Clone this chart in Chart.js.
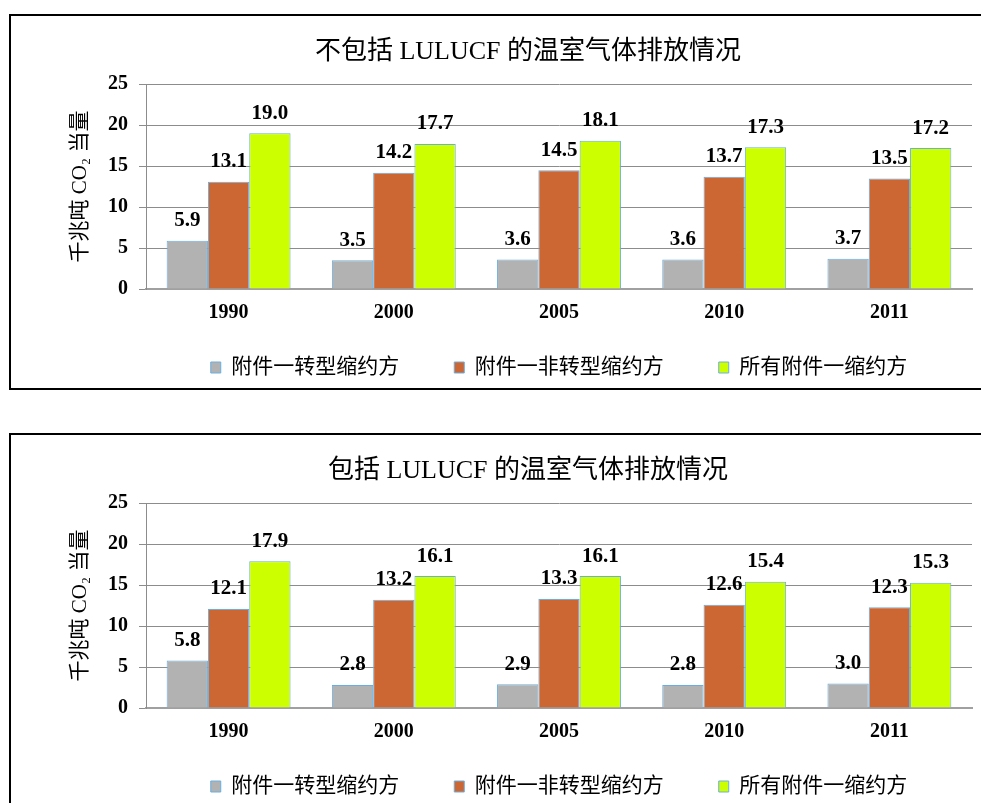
<!DOCTYPE html>
<html>
<head>
<meta charset="utf-8">
<script src="https://cdn.jsdelivr.net/npm/chart.js@4"></script>
<style>
  body { margin: 0; background: #fff; overflow: hidden; }
  .box { position: absolute; left: 9px; width: 1040px; height: 372px; border: 2px solid #000; overflow: hidden; background: #fff; }
  #box1 { top: 14px; }
  #box2 { top: 433px; }
</style>
</head>
<body>
<div class="box" id="box1"><canvas id="chart1" width="1034" height="372"></canvas></div>
<div class="box" id="box2"><canvas id="chart2" width="1034" height="372"></canvas></div>
<script>
const years = ["1990", "2000", "2005", "2010", "2011"];
const seriesNames = ["附件一转型缩约方", "附件一非转型缩约方", "所有附件一缩约方"];
const yTicks = [0, 5, 10, 15, 20, 25];

// 不包括 LULUCF
const exclEit = [5.9, 3.5, 3.6, 3.6, 3.7];
const exclNonEit = [13.1, 14.2, 14.5, 13.7, 13.5];
const exclAll = [19.0, 17.7, 18.1, 17.3, 17.2];

// 包括 LULUCF
const inclEit = [5.8, 2.8, 2.9, 2.8, 3.0];
const inclNonEit = [12.1, 13.2, 13.3, 12.6, 12.3];
const inclAll = [17.9, 16.1, 16.1, 15.4, 15.3];

const FONT = '"Liberation Serif", "Noto Sans CJK SC", serif';
Chart.defaults.font.family = FONT;
Chart.defaults.color = "#000";

// valeurs au-dessus des barres
const valueLabels = {
  id: "valueLabels",
  afterDatasetsDraw(chart) {
    const ctx = chart.ctx;
    ctx.save();
    ctx.font = "bold 21px " + FONT;
    ctx.fillStyle = "#000";
    ctx.textAlign = "center";
    ctx.textBaseline = "middle";
    chart.data.datasets.forEach((ds, i) => {
      chart.getDatasetMeta(i).data.forEach((bar, j) => {
        ctx.fillText(ds.data[j].toFixed(1), bar.x, bar.y - 20);
      });
    });
    ctx.restore();
  }
};

function makeChart(id, title, eit, nonEit, all) {
  const colors = ["#b2b2b2", "#cc6633", "#ccff00"];
  const values = [eit, nonEit, all];
  const ctx = document.getElementById(id).getContext("2d");
  return new Chart(ctx, {
    type: "bar",
    data: {
      labels: years,
      datasets: values.map((v, i) => ({
        label: seriesNames[i],
        data: v,
        backgroundColor: colors[i],
        borderColor: "#6aaedf",
        borderWidth: 1,
        categoryPercentage: 0.75,
        barPercentage: 1.0
      }))
    },
    options: {
      responsive: false,
      animation: false,
      layout: { padding: 0 },
      plugins: {
        title: {
          display: true,
          text: title,
          color: "#000",
          font: { size: 26, weight: "normal" },
          padding: { top: 21, bottom: 16 }
        },
        legend: {
          position: "bottom",
          fullSize: false,
          labels: {
            boxWidth: 10,
            boxHeight: 11,
            padding: 55,
            color: "#000",
            font: { size: 21 }
          }
        },
        tooltip: { enabled: false }
      },
      scales: {
        x: {
          grid: { display: false, drawTicks: false },
          border: { display: true, color: "#a0a0a0", width: 2 },
          ticks: { font: { size: 20, weight: "bold" }, color: "#000", padding: 12 },
          afterFit(s) {
            // la légende chevauche l'axe : ne pas couper les libellés
            s.height = 13;
            s._computeLabelArea = () => undefined;
          }
        },
        y: {
          min: 0,
          max: 25,
          afterBuildTicks(s) { s.ticks = yTicks.map(v => ({ value: v })); },
          grid: { color: "#8c8c8c", tickLength: 7, drawTicks: true },
          border: { display: true, color: "#8c8c8c" },
          ticks: { font: { size: 20, weight: "bold" }, color: "#000", padding: 11 },
          title: {
            display: true,
            text: "千兆吨 CO₂ 当量",
            color: "#000",
            font: { size: 21, weight: "normal" },
            padding: { top: 57, bottom: 0 }
          },
          afterFit(s) { s.width = 135; }
        },
        yR: {
          position: "right",
          display: true,
          grid: { display: false },
          border: { display: false },
          ticks: { display: false },
          afterFit(s) { s.width = 73; }
        }
      }
    },
    plugins: [valueLabels]
  });
}

makeChart("chart1", "不包括 LULUCF 的温室气体排放情况", exclEit, exclNonEit, exclAll);
makeChart("chart2", "包括 LULUCF 的温室气体排放情况", inclEit, inclNonEit, inclAll);
</script>
</body>
</html>
